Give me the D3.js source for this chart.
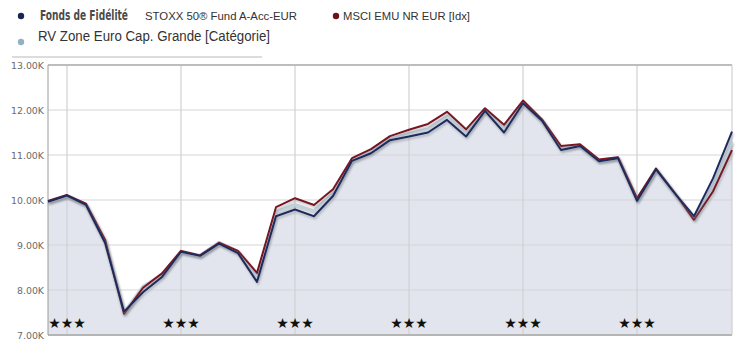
<!DOCTYPE html>
<html>
<head>
<meta charset="utf-8">
<script src="https://cdn.jsdelivr.net/npm/d3@7"></script>
<style>
  body { margin: 0; background: #fff; }
  #chart svg { display: block; }
  .tick-label { font-family: "DejaVu Sans", sans-serif; font-size: 9.4px; fill: #6a6a6a; }
  .legend-text { font-family: "Liberation Sans", Arial, sans-serif; fill: #333; }
</style>
</head>
<body>
<div id="chart"></div>
<script>
// monthly points, index 0..36
const fund = [9960, 10100, 9890, 9050, 7520, 7950, 8290, 8850, 8760, 9030, 8820, 8180,
  9640, 9790, 9640, 10090, 10870, 11040, 11330, 11410, 11500, 11780, 11410, 11980,
  11500, 12150, 11760, 11110, 11200, 10860, 10930, 9980, 10680, 10140, 9640, 10480, 11520];
const msci = [9980, 10110, 9920, 9120, 7470, 8050, 8370, 8870, 8770, 9050, 8870, 8380,
  9840, 10040, 9890, 10240, 10930, 11130, 11420, 11560, 11690, 11960, 11570, 12040,
  11670, 12210, 11790, 11200, 11240, 10900, 10950, 10040, 10700, 10150, 9560, 10190, 11110];
const category = [9970, 10100, 9900, 9100, 7500, 8080, 8340, 8860, 8770, 9060, 8860, 8300,
  9740, 9900, 9760, 10160, 10890, 11080, 11370, 11480, 11580, 11860, 11480, 12000,
  11580, 12170, 11770, 11150, 11220, 10880, 10940, 10000, 10690, 10150, 9600, 10320, 11300];
const yTicks = [7000, 8000, 9000, 10000, 11000, 12000, 13000];
const ratingIdx = [1, 7, 13, 19, 25, 31];
const ratings = [3, 3, 3, 3, 3, 3];

const W = 750, H = 362;
const plot = { left: 48, right: 732, top: 65, bottom: 335 };

const svg = d3.select("#chart").append("svg")
  .attr("width", W).attr("height", H);

const defs = svg.append("defs");
const f = defs.append("filter").attr("id", "shadow")
  .attr("x", "-5%").attr("y", "-10%").attr("width", "110%").attr("height", "130%");
f.append("feDropShadow").attr("dx", 1).attr("dy", 2).attr("stdDeviation", 1.3)
  .attr("flood-color", "#7a8088").attr("flood-opacity", 0.5);

const x = d3.scaleLinear().domain([0, fund.length - 1]).range([plot.left, plot.right]);
const y = d3.scaleLinear().domain([7000, 13000]).range([plot.bottom, plot.top]);

// legend
const leg = svg.append("g");
leg.append("circle").attr("cx", 21).attr("cy", 16).attr("r", 3.2).attr("fill", "#1b2553");
leg.append("text").attr("x", 40).attr("y", 20)
  .attr("font-family", "'DejaVu Sans Condensed', 'DejaVu Sans', sans-serif")
  .attr("font-weight", "bold").attr("font-size", 13.5).attr("fill", "#4a4a4a")
  .attr("textLength", 88).attr("lengthAdjust", "spacingAndGlyphs")
  .text("Fonds de Fidélité");
leg.append("text").attr("class", "legend-text").attr("x", 145).attr("y", 20)
  .attr("font-family", "'DejaVu Sans', sans-serif").attr("font-size", 11.5)
  .attr("textLength", 152).attr("lengthAdjust", "spacingAndGlyphs")
  .text("STOXX 50® Fund A-Acc-EUR");
leg.append("circle").attr("cx", 336).attr("cy", 16).attr("r", 3.2).attr("fill", "#6e0f1a");
leg.append("text").attr("class", "legend-text").attr("x", 343).attr("y", 20)
  .attr("font-family", "'DejaVu Sans', sans-serif").attr("font-size", 11.5)
  .attr("textLength", 127).attr("lengthAdjust", "spacingAndGlyphs")
  .text("MSCI EMU NR EUR [Idx]");
leg.append("circle").attr("cx", 21).attr("cy", 42).attr("r", 3.2).attr("fill", "#8fb3c3");
leg.append("text").attr("class", "legend-text").attr("x", 38).attr("y", 41)
  .attr("font-size", 14).attr("textLength", 232).attr("lengthAdjust", "spacingAndGlyphs")
  .text("RV Zone Euro Cap. Grande [Catégorie]");
leg.append("line").attr("x1", 12).attr("x2", 262).attr("y1", 57).attr("y2", 57)
  .attr("stroke", "#dcdcdc").attr("stroke-width", 2);

const g = svg.append("g");

// area under the fund
g.append("path").datum(fund)
  .attr("fill", "#e2e5ed")
  .attr("d", d3.area().x((d, i) => x(i)).y0(plot.bottom).y1(d => y(d)));

// grid
g.selectAll(".hgrid").data(yTicks).join("line")
  .attr("x1", plot.left).attr("x2", plot.right)
  .attr("y1", d => y(d)).attr("y2", d => y(d))
  .attr("stroke", "#d6d6d9").attr("stroke-width", 1.2);
g.selectAll(".vgrid").data(ratingIdx).join("line")
  .attr("x1", d => x(d)).attr("x2", d => x(d))
  .attr("y1", plot.top).attr("y2", plot.bottom)
  .attr("stroke", "#cfd0d4").attr("stroke-width", 1.2);

// frame
g.append("line").attr("x1", plot.left).attr("x2", plot.right)
  .attr("y1", plot.top).attr("y2", plot.top).attr("stroke", "#bdbdbd").attr("stroke-width", 2);
g.append("line").attr("x1", plot.left).attr("x2", plot.right)
  .attr("y1", plot.bottom).attr("y2", plot.bottom).attr("stroke", "#b5b5b5").attr("stroke-width", 2);
g.append("line").attr("x1", plot.right).attr("x2", plot.right)
  .attr("y1", plot.top).attr("y2", plot.bottom).attr("stroke", "#c8c8c8").attr("stroke-width", 1);
g.append("line").attr("x1", plot.left).attr("x2", plot.left)
  .attr("y1", plot.top).attr("y2", plot.bottom).attr("stroke", "#9a9a9a").attr("stroke-width", 1);

// y labels
g.selectAll(".tick-label").data(yTicks).join("text")
  .attr("class", "tick-label")
  .attr("x", 44).attr("y", d => y(d) + 3.5)
  .attr("text-anchor", "end")
  .text(d => d3.format(".2f")(d / 1000) + "K");

// ratings
g.selectAll(".stars").data(ratingIdx).join("text")
  .attr("x", d => x(d)).attr("y", 328)
  .attr("text-anchor", "middle")
  .attr("font-family", "'DejaVu Sans', sans-serif").attr("font-size", 14)
  .attr("fill", "#111")
  .text((d, i) => "★".repeat(ratings[i]));

// lines
const line = d3.line().x((d, i) => x(i)).y(d => y(d));
g.append("path").datum(category)
  .attr("fill", "none").attr("stroke", "#c3d1da").attr("stroke-width", 3)
  .attr("stroke-linejoin", "round").attr("filter", "url(#shadow)")
  .attr("d", line);
g.append("path").datum(msci)
  .attr("fill", "none").attr("stroke", "#7a1222").attr("stroke-width", 2)
  .attr("stroke-linejoin", "round").attr("filter", "url(#shadow)")
  .attr("d", line);
g.append("path").datum(fund)
  .attr("fill", "none").attr("stroke", "#1e2a5e").attr("stroke-width", 2)
  .attr("stroke-linejoin", "round").attr("filter", "url(#shadow)")
  .attr("d", line);
</script>
</body>
</html>
